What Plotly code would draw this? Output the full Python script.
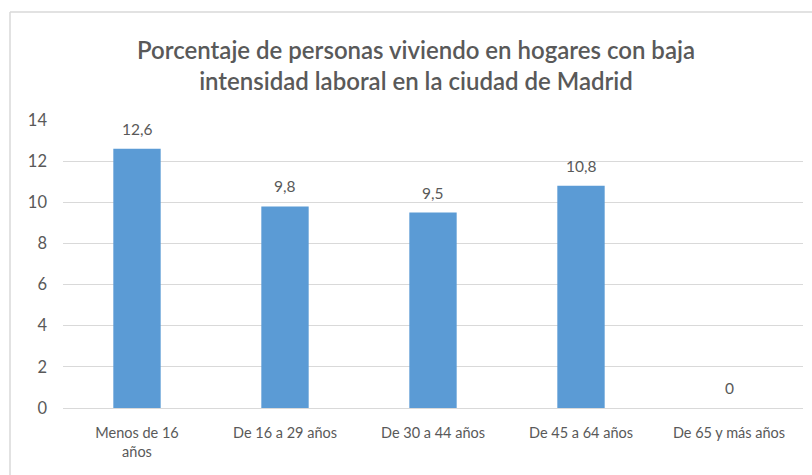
import plotly.graph_objects as go

categories = ["Menos de 16<br>años", "De 16 a 29 años", "De 30 a 44 años", "De 45 a 64 años", "De 65 y más años"]
values = [12.6, 9.8, 9.5, 10.8, 0]
labels = ["12,6", "9,8", "9,5", "10,8", "0"]
y_ticks = [0, 2, 4, 6, 8, 10, 12, 14]

W, H = 812, 475
L, R, T, B = 63, 9, 120, 67
pw, ph = W - L - R, H - T - B

font = "Lato, 'Open Sans', sans-serif"
gray = "#595959"

fig = go.Figure(go.Bar(
    x=categories, y=values,
    marker=dict(color="#5B9BD5", line=dict(width=0)),
    width=0.32, hoverinfo="skip",
))

for c, v, t in zip(categories, values, labels):
    fig.add_annotation(x=c, y=v, text=t, showarrow=False, yanchor="middle",
                       yshift=20, font=dict(size=15.5, color=gray, family=font))

fig.update_layout(
    width=W, height=H,
    margin=dict(l=L, r=R, t=T, b=B),
    paper_bgcolor="white", plot_bgcolor="white",
    title=dict(
        text="Porcentaje de personas viviendo en hogares con baja<br>intensidad laboral en la ciudad de Madrid",
        x=416 / W, xanchor="center", y=1 - 59 / H, yanchor="middle",
        font=dict(size=24, color=gray, family=font, weight=600),
    ),
    showlegend=False,
    xaxis=dict(
        showgrid=False, showline=True, linecolor="#D9D9D9", linewidth=1,
        tickfont=dict(size=14.5, color=gray, family=font), ticks="",
        ticklabelstandoff=12,
    ),
    yaxis=dict(
        range=[0, 14], tickvals=y_ticks, showgrid=True, gridcolor="#D9D9D9",
        zeroline=False, showline=False,
        tickfont=dict(size=16.5, color=gray, family=font), ticks="", ticklen=0,
        ticklabelstandoff=15,
    ),
)

fig.add_shape(type="line", xref="paper", yref="paper",
              x0=(10 - L) / pw, x1=1 + (R + 5) / pw,
              y0=(H - B - 12) / ph, y1=(H - B - 12) / ph,
              line=dict(color="#D9D9D9", width=1.5))
fig.add_shape(type="line", xref="paper", yref="paper",
              x0=(10 - L) / pw, x1=(10 - L) / pw,
              y0=(H - B - 12) / ph, y1=-(B + 5) / ph,
              line=dict(color="#D9D9D9", width=1.5))

fig.write_html("out.html", config={"displayModeBar": False},
               post_script="document.body.style.margin='0px';")
